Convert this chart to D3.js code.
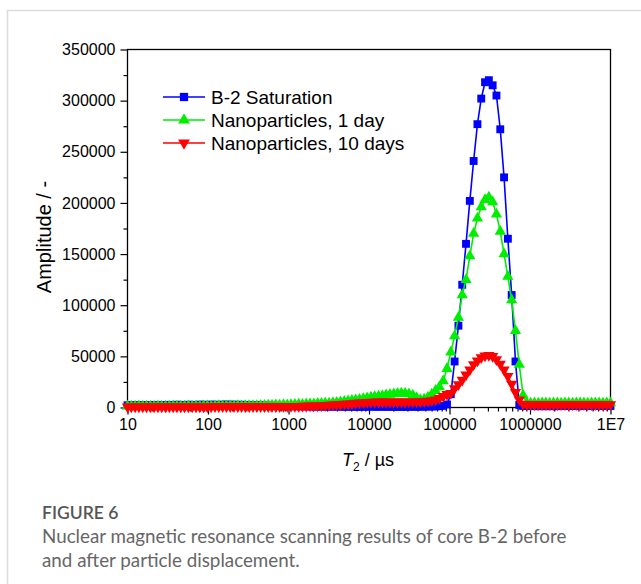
<!DOCTYPE html>
<html>
<head>
<meta charset="utf-8">
<script src="https://cdn.jsdelivr.net/npm/d3@7"></script>
<style>
  body { margin: 0; background: #fff; }
  svg { display: block; }
</style>
</head>
<body>
<svg id="chart" width="641" height="584"></svg>
<script>
// T2 relaxation times (µs), 128 log-spaced points from 10 to 1E7
var t2 = [10, 11.15, 12.43, 13.86, 15.45, 17.23, 19.21, 21.42, 23.88, 26.62,
    29.69, 33.10, 36.90, 41.15, 45.87, 51.15, 57.03, 63.58, 70.89, 79.04,
    88.13, 98.26, 109.5, 122.1, 136.1, 151.8, 169.2, 188.7, 210.3, 234.5,
    261.5, 291.5, 325.1, 362.4, 404.1, 450.5, 502.3, 560.1, 624.4, 696.2,
    776.2, 865.5, 965.0, 1075, 1199, 1337, 1490, 1662, 1853, 2066,
    2303, 2568, 2863, 3192, 3559, 3968, 4424, 4933, 5500, 6132,
    6837, 7622, 8499, 9476, 10565, 11779, 13133, 14643, 16326, 18203,
    20295, 22628, 25229, 28129, 31363, 34968, 38987, 43469, 48466, 54037,
    60248, 67174, 74896, 83505, 93104, 103806, 115739, 129043, 143877, 160416,
    178856, 199416, 222339, 247897, 276392, 308164, 343588, 383083, 427118, 476214,
    530953, 591986, 660034, 735906, 820499, 914815, 1019974, 1137222, 1267946, 1413697,
    1576201, 1757386, 1959399, 2184634, 2435759, 2715751, 3027928, 3375989, 3764057, 4196734,
    4679148, 5217014, 5816706, 6485330, 7230811, 8061983, 8988700, 10000000];

var blueAmp = [2200, 2300, 2200, 2400, 2300, 2200, 2300, 2400, 2200, 2300,
    2500, 2600, 2400, 2700, 2600, 2500, 2700, 2600, 2500, 2800,
    2700, 2600, 2800, 2700, 2600, 2800, 2900, 2700, 2800, 2600,
    2700, 2500, 2600, 2400, 2300, 2200, 2000, 1900, 1800, 1700,
    1600, 1500, 1400, 1300, 1300, 1200, 1100, 1100, 1000, 1000,
    900, 900, 900, 800, 800, 800, 800, 700, 700, 700,
    700, 700, 700, 800, 800, 800, 700, 700, 700, 700,
    600, 600, 600, 600, 700, 700, 700, 800, 800, 900,
    1000, 1100, 1300, 1600, 3000, 13000, 45000, 80000, 120000, 160000,
    202000, 241000, 277000, 302000, 318000, 320000, 315000, 305000, 272000, 225000,
    165000, 110000, 45000, 2500, 1500, 1400, 1400, 1300, 1300, 1300,
    1300, 1300, 1300, 1300, 1400, 1400, 1400, 1400, 1400, 1400,
    1400, 1400, 1400, 1400, 1400, 1400, 1500, 1500];

var greenAmp = [1300, 1200, 1300, 1400, 1200, 1300, 1300, 1200, 1400, 1300,
    1300, 1200, 1400, 1300, 1300, 1200, 1400, 1300, 1500, 1300,
    1400, 1500, 1300, 1500, 1600, 1400, 1500, 1700, 1500, 1600,
    1500, 1700, 1600, 1800, 1700, 2000, 1900, 2200, 2100, 2400,
    2300, 2600, 2500, 2800, 2900, 3100, 3000, 3300, 3500, 3400,
    3800, 3900, 4200, 4100, 4600, 5000, 5400, 5800, 6300, 6800,
    7400, 7900, 8600, 9200, 9900, 10500, 11000, 11600, 12200, 12700,
    13200, 13600, 14000, 13700, 13200, 12000, 9500, 7500, 8000, 10000,
    13000, 16500, 20000, 26000, 38000, 54000, 70000, 88000, 110000, 125000,
    148000, 170000, 185000, 196000, 203000, 205500, 201000, 189000, 172000, 150000,
    128000, 105000, 75000, 42000, 12000, 4500, 4200, 4300, 4200, 4400,
    4300, 4200, 4400, 4300, 4200, 4300, 4400, 4200, 4300, 4400,
    4300, 4200, 4300, 4400, 4300, 4200, 4400, 4300];

var redAmp = [800, 800, 800, 800, 800, 800, 800, 800, 800, 800,
    800, 800, 800, 800, 800, 800, 800, 800, 800, 800,
    800, 800, 800, 900, 900, 900, 900, 900, 900, 900,
    900, 900, 1000, 1000, 1000, 1000, 1000, 1100, 1100, 1100,
    1100, 1200, 1200, 1200, 1300, 1300, 1400, 1500, 1600, 1700,
    1800, 2000, 2200, 2400, 2600, 2900, 3100, 3400, 3700, 4000,
    4300, 4600, 4900, 5100, 5300, 5400, 5500, 5500, 5500, 5500,
    5500, 5500, 5500, 5500, 5600, 5600, 5700, 5800, 6000, 6300,
    6800, 7500, 9000, 11000, 13000, 14000, 18500, 22500, 27000, 32000,
    37000, 42000, 45800, 49000, 50500, 51000, 50000, 47000, 42500, 37000,
    30500, 23000, 15000, 7500, 3500, 3000, 3000, 2900, 3000, 3000,
    2900, 3000, 3000, 2900, 3000, 3000, 2900, 3000, 3000, 2900,
    3000, 3000, 2900, 3000, 3000, 2900, 3000, 3000];

var seriesNames = ["B-2 Saturation", "Nanoparticles, 1 day", "Nanoparticles, 10 days"];
var xTickValues = [10, 100, 1000, 10000, 100000, 1000000, 10000000];
var xTickLabels = ["10", "100", "1000", "10000", "100000", "1000000", "1E7"];
var yTickValues = [0, 50000, 100000, 150000, 200000, 250000, 300000, 350000];

var FONT = "'Liberation Sans', Arial, sans-serif";

var svg = d3.select("#chart");

var x0 = 127.5, x1 = 610.5, y0 = 407.5, y1 = 49.5;

var x = d3.scaleLog().domain([10, 1e7]).range([x0, x1]);
var y = d3.scaleLinear().domain([0, 350000]).range([y0, y1]);

// card border (page frame around the figure)
svg.append("path")
    .attr("d", "M7.5,584 V10.5 H641")
    .attr("fill", "none")
    .attr("stroke", "#dcdcdc")
    .attr("stroke-width", 1.5);

// minor ticks
var xMinor = [];
xTickValues.slice(0, -1).forEach(function (d) {
    for (var m = 2; m < 10; m++) xMinor.push(d * m);
});
var yMinor = yTickValues.slice(0, -1).map(function (d) { return d + 25000; });

svg.append("g")
    .attr("transform", "translate(0," + y0 + ")")
    .call(d3.axisBottom(x).tickValues(xMinor).tickSize(4).tickSizeOuter(0).tickFormat(""))
    .call(function (g) { g.select(".domain").remove(); });

svg.append("g")
    .attr("transform", "translate(" + x0 + ",0)")
    .call(d3.axisLeft(y).tickValues(yMinor).tickSize(4).tickSizeOuter(0).tickFormat(""))
    .call(function (g) { g.select(".domain").remove(); });

var xAxis = svg.append("g")
    .attr("transform", "translate(0," + y0 + ")")
    .call(d3.axisBottom(x).tickValues(xTickValues).tickSize(7).tickSizeOuter(0).tickPadding(4)
        .tickFormat(function (d, i) { return xTickLabels[i]; }));
xAxis.select(".domain").remove();

var yAxis = svg.append("g")
    .attr("transform", "translate(" + x0 + ",0)")
    .call(d3.axisLeft(y).tickValues(yTickValues).tickSize(7).tickSizeOuter(0).tickPadding(5)
        .tickFormat(d3.format("d")));
yAxis.select(".domain").remove();

svg.selectAll(".tick line").attr("stroke", "#000").attr("stroke-width", 1.2);
svg.selectAll(".tick text")
    .attr("font-family", FONT)
    .attr("font-size", 16)
    .attr("fill", "#000");

// frame
svg.append("rect")
    .attr("x", x0).attr("y", y1)
    .attr("width", x1 - x0).attr("height", y0 - y1)
    .attr("fill", "none")
    .attr("stroke", "#000")
    .attr("stroke-width", 1.3);

var series = [
    {name: seriesNames[0], values: blueAmp, color: "#0000ff", symbol: d3.symbolSquare, size: 62, rot: 0},
    {name: seriesNames[1], values: greenAmp, color: "#00ee00", symbol: d3.symbolTriangle, size: 55, rot: 0},
    {name: seriesNames[2], values: redAmp, color: "#ff0000", symbol: d3.symbolTriangle, size: 55, rot: 180}
];

var line = d3.line()
    .x(function (d, i) { return x(t2[i]); })
    .y(function (d) { return y(d); });

var plot = svg.append("g");

series.forEach(function (s) {
    var g = plot.append("g");
    g.append("path")
        .datum(s.values)
        .attr("d", line)
        .attr("fill", "none")
        .attr("stroke", s.color)
        .attr("stroke-width", 1.6);
    g.selectAll("path.mark")
        .data(s.values)
        .enter().append("path")
        .attr("class", "mark")
        .attr("d", d3.symbol().type(s.symbol).size(s.size))
        .attr("transform", function (d, i) {
            return "translate(" + x(t2[i]) + "," + y(d) + ")" + (s.rot ? " rotate(" + s.rot + ")" : "");
        })
        .attr("fill", s.color);
});

// legend
var legend = svg.append("g");
series.forEach(function (s, i) {
    var ly = 97 + i * 23;
    legend.append("line")
        .attr("x1", 163).attr("x2", 205)
        .attr("y1", ly).attr("y2", ly)
        .attr("stroke", s.color)
        .attr("stroke-width", 1.6);
    legend.append("path")
        .attr("d", d3.symbol().type(s.symbol).size(s.size * 1.1))
        .attr("transform", "translate(184," + ly + ")" + (s.rot ? " rotate(" + s.rot + ")" : ""))
        .attr("fill", s.color);
    legend.append("text")
        .attr("x", 211).attr("y", ly)
        .attr("dy", "0.35em")
        .attr("font-family", FONT)
        .attr("font-size", 19)
        .attr("fill", "#000")
        .text(s.name);
});

// axis titles
svg.append("text")
    .attr("transform", "translate(51,237) rotate(-90)")
    .attr("text-anchor", "middle")
    .attr("font-family", FONT)
    .attr("font-size", 20)
    .text("Amplitude / -");

var xt = svg.append("text")
    .attr("x", 368).attr("y", 466)
    .attr("text-anchor", "middle")
    .attr("font-family", FONT)
    .attr("font-size", 18);
xt.append("tspan").attr("font-style", "italic").text("T");
xt.append("tspan").attr("font-size", 12).attr("dy", 5).text("2");
xt.append("tspan").attr("dy", -5).text(" / \u00b5s");

// caption
var CAP_FONT = "Lato, 'Open Sans', sans-serif";
svg.append("text")
    .attr("x", 42).attr("y", 519)
    .attr("font-family", CAP_FONT)
    .attr("font-size", 17.5)
    .attr("font-weight", 600)
    .attr("fill", "#555")
    .text("FIGURE 6");
svg.append("text")
    .attr("x", 42).attr("y", 543)
    .attr("font-family", CAP_FONT)
    .attr("font-size", 18.8)
    .attr("fill", "#666")
    .text("Nuclear magnetic resonance scanning results of core B-2 before");
svg.append("text")
    .attr("x", 42).attr("y", 567)
    .attr("font-family", CAP_FONT)
    .attr("font-size", 18.8)
    .attr("fill", "#666")
    .text("and after particle displacement.");
</script>
</body>
</html>
